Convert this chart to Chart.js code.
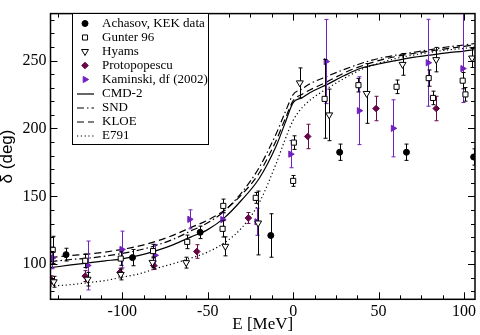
<!DOCTYPE html>
<html><head><meta charset="utf-8">
<script src="https://cdn.jsdelivr.net/npm/chart.js@4.4.0/dist/chart.umd.min.js"></script>
<style>html,body{margin:0;padding:0;background:#fff;}#wrap{width:480px;height:335px;}</style>
</head><body><div id="wrap"><canvas id="c" width="480" height="335"></canvas></div>
<script>
// ---------- data ----------
const xTicks = [-100, -50, 0, 50, 100];
const yTicks = [100, 150, 200, 250];

const achasovE   = [-132.9, -94, -54.4, -13.1, 27.2, 66.3, 105.6];
const achasovD   = [107.1, 104.9, 123.5, 121.2, 182.5, 182.5, 179];
const achasovErr = [4.7, 6, 4.6, 16, 6, 6, 6];

const gunterE   = [-140.7, -121.7, -100.9, -82, -62, -41.3, -40.9, -21.9, 0, 0.4, 18.4, 38.2, 60.5, 79.3, 81.8, 99.2, 100.8];
const gunterD   = [110.6, 102.6, 104.2, 109.7, 116.5, 126.1, 143, 148.9, 161.4, 189.6, 221.8, 231.9, 230.7, 237.1, 222.5, 235.2, 225.1];
const gunterErr = [10, 5, 5, 5, 5, 6, 5, 4, 4, 5, 29, 5, 5, 6, 5, 6, 5];

const hyamsE   = [-140.1, -120.3, -100.9, -82.3, -62.6, -39.7, -20.5, 3.9, 21.1, 43, 64, 83.7, 104.7];
const hyamsD   = [87.1, 89, 92.5, 101.4, 101.2, 113.2, 130.4, 233.6, 210, 225.8, 247.2, 250.7, 251.9];
const hyamsErr = [4, 5, 4, 4, 4, 7, 23.5, 11, 19, 22, 8, 9, 7];

const protoE   = [-141.5, -121.7, -101.3, -81.6, -56.4, -26.2, 8.5, 48.5, 83.7];
const protoD   = [88.5, 91.3, 94.1, 99.1, 109.4, 134.1, 194.1, 214.7, 214.7];
const protoErr = [3, 4, 3, 3, 5, 4, 9, 9, 9];

const kaminskiE   = [-141, -120.3, -100.3, -80.9, -60.6, -41.3, -21.3, -1.5, 19.2, 38.6, 58.5, 78.9, 99.2];
const kaminskiD   = [104.7, 99.1, 110.9, 106.6, 133.1, 132.9, 131.3, 181.1, 249.3, 213.1, 200.1, 248.4, 244.1];
const kaminskiErr = [8, 18, 13.5, 8, 7, 5, 10, 10, 31, 25, 21, 32, [25, 45]];

const curveE = [-142, -130, -120, -110, -100, -90, -80, -70, -60, -50, -40, -30, -20, -10, -5, 0, 5, 10, 20, 30, 40, 50, 60, 70, 80, 90, 100, 106];
const cmd2 = [97.5, 99.5, 101, 102.5, 104, 106.5, 110, 114.5, 120, 125.5, 134.5, 147.5, 163, 187, 203, 219, 222.5, 226.5, 232.5, 239, 244.5, 247.5, 250, 252.3, 254, 255.7, 257, 258];
const snd  = [102, 103.5, 104.5, 106, 108, 110.5, 114, 118.5, 124.5, 130.5, 139.5, 153, 171, 196, 211, 225, 229, 233, 238.5, 243.5, 248, 251.5, 254, 256, 258, 260, 261.5, 262.5];
const kloe = [105, 106.5, 107.5, 109, 111, 113.5, 117, 121.5, 127, 132.5, 140, 151.5, 167, 191, 206, 220.5, 225, 228.5, 234.5, 241, 246, 250, 253, 255.2, 257, 258.8, 260.5, 261.5];
const e791 = [84, 85, 86.5, 88, 90.5, 93, 97, 100.5, 104.5, 109, 116, 127, 145, 174, 191, 206, 215, 221, 229.5, 237, 243.5, 248, 251.5, 254, 256, 257.8, 259, 260];

// ---------- helpers ----------
const INDIGO = 'rgb(114,33,188)';
const MAROON = 'rgb(103,7,72)';
const pts = (xs, ys) => xs.map((x, i) => ({x: x, y: ys[i]}));

function scatterDS(label, xs, ys, errs, style) {
  return Object.assign({
    type: 'scatter', label: label, data: pts(xs, ys), errors: errs,
    showLine: false, pointBorderWidth: 1, pointHoverRadius: 0
  }, style);
}
function curveDS(label, ys, dash) {
  return {
    type: 'scatter', label: label, data: pts(curveE, ys), showLine: true,
    borderColor: '#000', borderWidth: 1.2, borderDash: dash, pointRadius: 0,
    fill: false, cubicInterpolationMode: 'monotone', isCurve: true
  };
}

const datasets = [
  scatterDS('Achasov, KEK data', achasovE, achasovD, achasovErr,
    {pointStyle: 'circle', pointRadius: 3, backgroundColor: '#000', borderColor: '#000', errColor: '#000'}),
  scatterDS('Gunter 96', gunterE, gunterD, gunterErr,
    {pointStyle: 'rect', pointRadius: 3.6, backgroundColor: '#fff', borderColor: '#000', errColor: '#000'}),
  scatterDS('Hyams', hyamsE, hyamsD, hyamsErr,
    {pointStyle: 'triangle', pointRotation: 180, pointRadius: 4, backgroundColor: '#fff', borderColor: '#000', errColor: '#000'}),
  scatterDS('Protopopescu', protoE, protoD, protoErr,
    {pointStyle: 'rectRot', pointRadius: 3.3, backgroundColor: MAROON, borderColor: MAROON, errColor: MAROON}),
  scatterDS('Kaminski, df (2002)', kaminskiE, kaminskiD, kaminskiErr,
    {pointStyle: 'triangle', pointRotation: 90, pointRadius: 3.6, backgroundColor: INDIGO, borderColor: INDIGO, errColor: INDIGO}),
  curveDS('CMD-2', cmd2, []),
  curveDS('SND', snd, [7, 3, 1.5, 3]),
  curveDS('KLOE', kloe, [7, 4]),
  curveDS('E791', e791, [1.2, 2.6])
];

// ---------- plugins ----------
const errorBars = {
  id: 'errorBars',
  beforeDatasetDraw(chart, args) {
    const ds = chart.data.datasets[args.index];
    if (!ds.errors) return;
    const {ctx, chartArea: a, scales: {x, y}} = chart;
    ctx.save();
    ctx.beginPath(); ctx.rect(a.left, a.top, a.right - a.left, a.bottom - a.top); ctx.clip();
    ctx.strokeStyle = ds.errColor; ctx.lineWidth = 1;
    ds.data.forEach((p, i) => {
      const e = ds.errors[i];
      const lo = Array.isArray(e) ? e[0] : e, hi = Array.isArray(e) ? e[1] : e;
      const px = Math.round(x.getPixelForValue(p.x)) + 0.5;
      const y1 = y.getPixelForValue(p.y - lo), y2 = y.getPixelForValue(p.y + hi);
      ctx.beginPath();
      ctx.moveTo(px, y1); ctx.lineTo(px, y2);
      ctx.moveTo(px - 2, y1); ctx.lineTo(px + 2, y1);
      ctx.moveTo(px - 2, y2); ctx.lineTo(px + 2, y2);
      ctx.stroke();
    });
    ctx.restore();
  }
};

const frameTicks = {
  id: 'frameTicks',
  afterDatasetsDraw(chart) {
    const {ctx, chartArea: a, scales: {x, y}} = chart;
    ctx.save();
    ctx.strokeStyle = '#000';
    ctx.lineWidth = 1;
    const xMinor = [], yMinor = [];
    for (let v = -137.5; v <= 106; v += 12.5) xMinor.push(v);
    for (let v = 80; v <= 284; v += 10) yMinor.push(v);
    ctx.beginPath();
    xMinor.forEach(v => {
      const major = xTicks.indexOf(v) >= 0, L = major ? 7 : 4;
      const px = Math.round(x.getPixelForValue(v)) + 0.5;
      ctx.moveTo(px, a.bottom); ctx.lineTo(px, a.bottom - L);
      ctx.moveTo(px, a.top); ctx.lineTo(px, a.top + L);
    });
    yMinor.forEach(v => {
      const major = yTicks.indexOf(v) >= 0, L = major ? 7 : 4;
      const py = Math.round(y.getPixelForValue(v)) + 0.5;
      ctx.moveTo(a.left, py); ctx.lineTo(a.left + L, py);
      ctx.moveTo(a.right, py); ctx.lineTo(a.right - L, py);
    });
    ctx.stroke();
    ctx.lineWidth = 1.5;
    ctx.strokeRect(a.left, a.top, a.right - a.left, a.bottom - a.top);
    ctx.restore();
  }
};

function drawMarker(ctx, ds, cx, cy) {
  ctx.save();
  ctx.fillStyle = ds.backgroundColor; ctx.strokeStyle = ds.borderColor; ctx.lineWidth = 1;
  const r = ds.pointRadius;
  ctx.beginPath();
  if (ds.pointStyle === 'circle') {
    ctx.arc(cx, cy, r, 0, Math.PI * 2);
  } else if (ds.pointStyle === 'rect') {
    const s = r * Math.SQRT1_2;
    ctx.rect(cx - s, cy - s, 2 * s, 2 * s);
  } else if (ds.pointStyle === 'rectRot') {
    ctx.moveTo(cx, cy - r); ctx.lineTo(cx + r, cy); ctx.lineTo(cx, cy + r); ctx.lineTo(cx - r, cy); ctx.closePath();
  } else if (ds.pointStyle === 'triangle') {
    let rad = (ds.pointRotation || 0) * Math.PI / 180;
    for (let k = 0; k < 3; k++) {
      const px = cx + Math.sin(rad) * r, py = cy - Math.cos(rad) * r;
      if (k === 0) ctx.moveTo(px, py); else ctx.lineTo(px, py);
      rad += 2 * Math.PI / 3;
    }
    ctx.closePath();
  }
  ctx.fill(); ctx.stroke();
  ctx.restore();
}

const legendBox = {
  id: 'legendBox',
  afterDraw(chart) {
    const ctx = chart.ctx;
    const bx = 72.5, by = 13.5, bw = 136, bh = 131;
    ctx.save();
    ctx.fillStyle = '#fff'; ctx.fillRect(bx, by, bw, bh);
    ctx.strokeStyle = '#000'; ctx.lineWidth = 1; ctx.strokeRect(bx, by, bw, bh);
    ctx.font = '13px "Liberation Serif"'; ctx.textBaseline = 'middle';
    chart.data.datasets.forEach((ds, i) => {
      const yy = 23.5 + i * 14;
      if (ds.isCurve) {
        ctx.save();
        ctx.strokeStyle = '#000'; ctx.lineWidth = 1.2; ctx.setLineDash(ds.borderDash);
        ctx.beginPath(); ctx.moveTo(77, yy + 0.5); ctx.lineTo(94, yy + 0.5); ctx.stroke();
        ctx.restore();
      } else {
        drawMarker(ctx, ds, 85, yy);
      }
      ctx.fillStyle = '#000';
      ctx.fillText(ds.label, 102, yy + 0.5);
    });
    ctx.restore();
  }
};

// ---------- chart ----------
new Chart(document.getElementById('c'), {
  type: 'scatter',
  data: {datasets: datasets},
  plugins: [errorBars, frameTicks, legendBox],
  options: {
    responsive: false, animation: false, devicePixelRatio: 1,
    layout: {padding: {left: 0, right: 2.7, top: 1, bottom: 0}},
    plugins: {legend: {display: false}, tooltip: {enabled: false}},
    elements: {line: {tension: 0}},
    scales: {
      x: {
        type: 'linear', min: -142, max: 106.4,
        grid: {display: false, drawTicks: false}, border: {display: false},
        afterBuildTicks: s => { s.ticks = xTicks.map(v => ({value: v})); },
        afterFit: s => { s.height = 35.7; },
        ticks: {color: '#000', font: {family: 'Liberation Serif', size: 16}, padding: 3,
                maxRotation: 0, autoSkip: false, callback: v => String(v)},
        title: {display: true, text: 'E [MeV]', color: '#000',
                font: {family: 'Liberation Serif', size: 17, lineHeight: 1.2}, padding: {top: 0, bottom: 0}}
      },
      y: {
        type: 'linear', min: 74.2, max: 284.6,
        grid: {display: false, drawTicks: false}, border: {display: false},
        afterBuildTicks: s => { s.ticks = yTicks.map(v => ({value: v})); },
        afterFit: s => { s.width = 50.5; },
        ticks: {color: '#000', font: {family: 'Liberation Serif', size: 16}, padding: 4,
                autoSkip: false, callback: v => String(v)},
        title: {display: true, text: 'δ (deg)', color: '#000',
                font: {family: 'Liberation Sans', size: 17, lineHeight: 1}, padding: {top: -1, bottom: 0}}
      }
    }
  }
});
</script></body></html>
